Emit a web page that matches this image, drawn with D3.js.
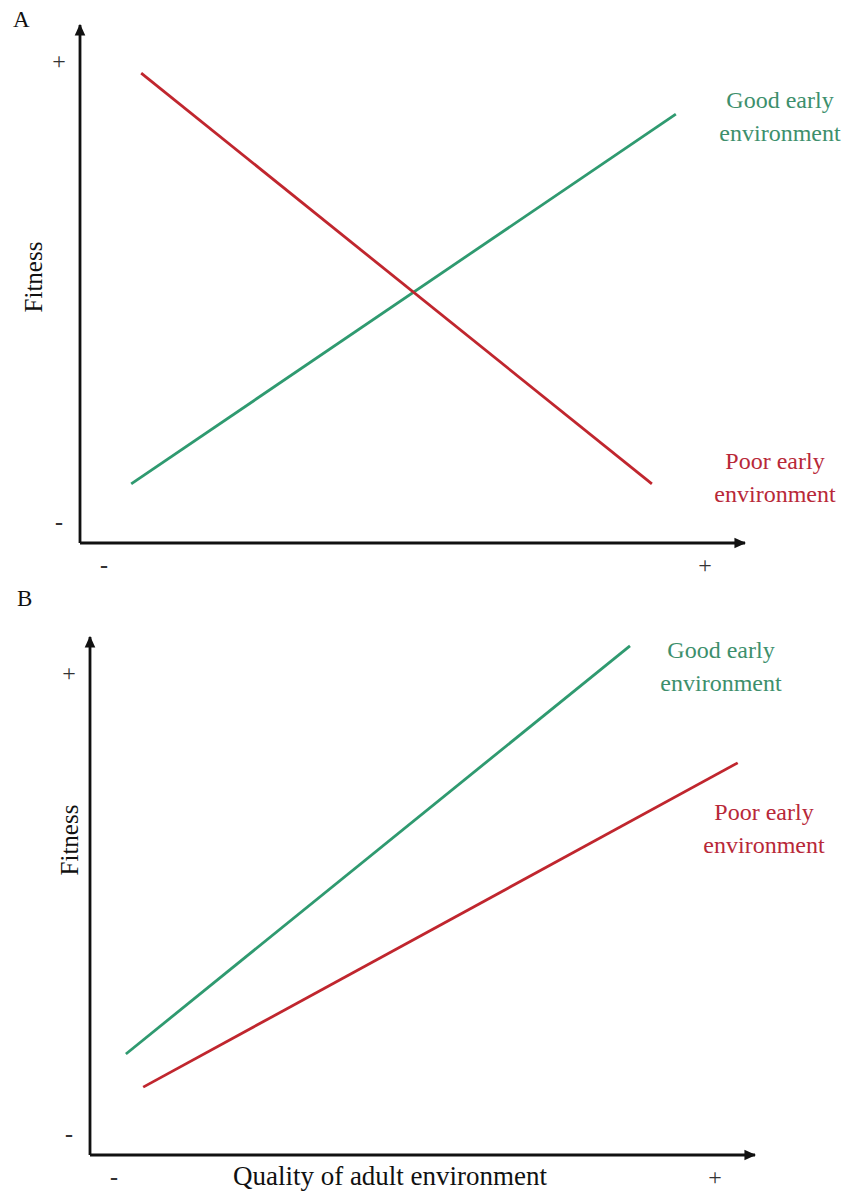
<!DOCTYPE html>
<html>
<head>
<meta charset="utf-8">
<script src="https://cdn.jsdelivr.net/npm/d3@7/dist/d3.min.js"></script>
<style>
  html, body { margin: 0; padding: 0; background: #fff; }
  svg text { font-family: "Liberation Serif", "Times New Roman", Times, "DejaVu Serif", serif; }
</style>
</head>
<body>
<svg id="chart" width="845" height="1191"></svg>
<script>
// Conceptual reaction norms: fitness vs. quality of adult environment (0–100 scale)
const panels = ["A", "B"];
const groups = ["Good early environment", "Poor early environment"];
const groupLines = [["Good early", "environment"], ["Poor early", "environment"]];
const groupColors = ["#2f9a70", "#c0262e"];
const groupTextColors = ["#3d8f6c", "#b82838"];
const tickLabels = ["-", "+"];
const yTitle = "Fitness";
const xTitle = "Quality of adult environment";

// Endpoints [x0, x1] and [y0, y1] of each line per panel
const goodX = [[7.7, 89.6], [5.4, 81.2]];
const goodY = [[11.4, 82.8], [19.5, 98.3]];
const poorX = [[9.2, 86.0], [8.0, 97.4]];
const poorY = [[90.7, 11.4], [13.1, 75.7]];

// Layout of each panel
const frames = [
  { left: 80, right: 745, top: 25, bottom: 543, letter: [13, 27], showX: false,
    labelAt: [[780, 108], [775, 469]], yTitleAt: [42, 277] },
  { left: 90, right: 755, top: 637, bottom: 1155, letter: [17, 606], showX: true,
    labelAt: [[721, 658], [764, 820]], yTitleAt: [78, 840] }
];

const svg = d3.select("#chart");

svg.append("defs").append("marker")
  .attr("id", "arrow")
  .attr("viewBox", "0 0 10 10")
  .attr("refX", 9).attr("refY", 5)
  .attr("markerWidth", 4.2).attr("markerHeight", 4.2)
  .attr("markerUnits", "strokeWidth")
  .attr("orient", "auto")
  .append("path").attr("d", "M0,0.5 L10,5 L0,9.5 Z").attr("fill", "#111");

panels.forEach((name, i) => {
  const f = frames[i];
  const x = d3.scaleLinear().domain([0, 100]).range([f.left, f.right]);
  const y = d3.scaleLinear().domain([0, 100]).range([f.bottom, f.top]);
  const g = svg.append("g");

  // Panel letter
  g.append("text").attr("x", f.letter[0]).attr("y", f.letter[1])
    .attr("font-size", 23).attr("fill", "#111").text(name);

  // Axes with arrowheads
  g.append("path")
    .attr("d", `M${x(0)},${y(0)} L${x(0)},${y(100)}`)
    .attr("stroke", "#111").attr("stroke-width", 2.8).attr("fill", "none")
    .attr("marker-end", "url(#arrow)");
  g.append("path")
    .attr("d", `M${x(0)},${y(0)} L${x(100)},${y(0)}`)
    .attr("stroke", "#111").attr("stroke-width", 2.8).attr("fill", "none")
    .attr("marker-end", "url(#arrow)");

  // Y tick labels (- at low end, + at high end)
  const yTicks = [4, 93];
  g.selectAll(".ytick").data(tickLabels).join("text")
    .attr("x", x(0) - 21).attr("y", (d, k) => y(yTicks[k]) + 8)
    .attr("text-anchor", "middle").attr("font-size", 24)
    .attr("font-weight", (d, k) => k === 0 ? "bold" : "normal")
    .attr("fill", "#333")
    .text(d => d);

  // X tick labels
  const xTicks = [3.6, 94];
  g.selectAll(".xtick").data(tickLabels).join("text")
    .attr("x", (d, k) => x(xTicks[k])).attr("y", y(0) + 30)
    .attr("text-anchor", "middle").attr("font-size", 24)
    .attr("font-weight", (d, k) => k === 0 ? "bold" : "normal")
    .attr("fill", "#333")
    .text(d => d);

  // Axis titles
  g.append("text")
    .attr("transform", `translate(${f.yTitleAt[0]},${f.yTitleAt[1]}) rotate(-90)`)
    .attr("text-anchor", "middle").attr("font-size", 25).attr("fill", "#111")
    .text(yTitle);
  if (f.showX) {
    g.append("text").attr("x", 390).attr("y", y(0) + 30)
      .attr("text-anchor", "middle").attr("font-size", 27).attr("fill", "#111")
      .text(xTitle);
  }

  // Reaction-norm lines
  const series = [
    { xs: goodX[i], ys: goodY[i] },
    { xs: poorX[i], ys: poorY[i] }
  ];
  const line = d3.line().x(d => x(d[0])).y(d => y(d[1]));
  series.forEach((s, k) => {
    g.append("path")
      .attr("d", line(s.xs.map((v, j) => [v, s.ys[j]])))
      .attr("stroke", groupColors[k]).attr("stroke-width", 2.8)
      .attr("fill", "none");
  });

  // Group labels
  groups.forEach((grp, k) => {
    const t = g.append("text")
      .attr("x", f.labelAt[k][0]).attr("y", f.labelAt[k][1])
      .attr("text-anchor", "middle").attr("font-size", 24)
      .attr("fill", groupTextColors[k]);
    groupLines[k].forEach((ln, j) => {
      t.append("tspan").attr("x", f.labelAt[k][0]).attr("dy", j === 0 ? 0 : 33).text(ln);
    });
  });
});
</script>
</body>
</html>
